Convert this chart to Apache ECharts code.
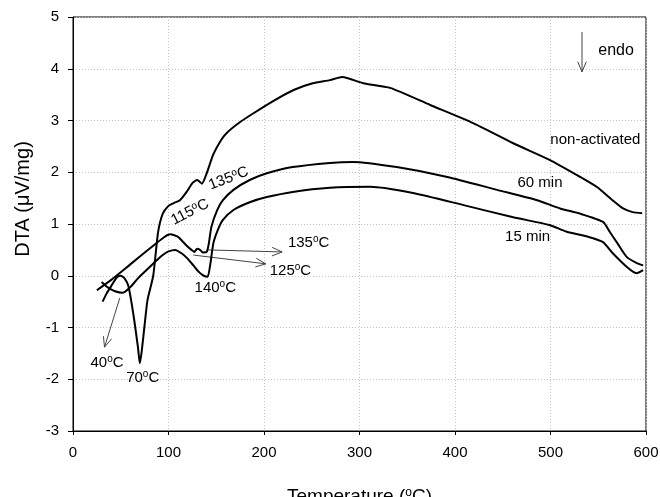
<!DOCTYPE html>
<html>
<head>
<meta charset="utf-8">
<script src="https://cdn.jsdelivr.net/npm/echarts@6/dist/echarts.min.js"></script>
<style>
  html, body { margin: 0; background: #fff; }
  #main { width: 660px; height: 497px; }
</style>
</head>
<body>
<div id="main"></div>
<script>
// DTA curves, [temperature, DTA]
var nonActivated = [
  [31,-0.5],[35,-0.35],[40,-0.2],[46,-0.03],[50,0.0],[54,-0.05],[58,-0.2],[63,-0.72],
  [68,-1.38],[70,-1.69],[72,-1.45],[75,-0.95],[78,-0.47],[84,0.0],[89,0.83],[94,1.2],
  [100,1.35],[105,1.4],[112,1.46],[119,1.62],[125,1.79],[130,1.85],[135,1.78],[140,1.98],
  [147,2.35],[155,2.62],[161,2.76],[175,2.97],[189,3.14],[210,3.38],[231,3.59],[251,3.72],
  [269,3.78],[282,3.84],[304,3.72],[332,3.63],[374,3.30],[419,2.95],[461,2.56],[499,2.24],
  [531,1.91],[549,1.71],[565,1.46],[576,1.3],[586,1.23],[596,1.21]
];
var min60 = [
  [25,-0.28],[40,-0.08],[60,0.22],[80,0.52],[95,0.74],[102,0.8],[110,0.75],[118,0.6],
  [124,0.5],[127,0.46],[130,0.52],[133,0.5],[136,0.45],[140,0.46],[142,0.6],[145,0.95],[151,1.27],
  [157,1.46],[168,1.66],[185,1.85],[203,1.98],[230,2.1],[269,2.18],[293,2.2],[339,2.1],
  [392,1.91],[444,1.66],[486,1.46],[510,1.3],[531,1.2],[555,1.04],[562,0.85],[570,0.63],
  [580,0.36],[590,0.25],[597,0.2]
];
var min15 = [
  [30,-0.12],[36,-0.22],[44,-0.3],[52,-0.33],[60,-0.22],[68,-0.05],[77,0.11],[86,0.27],
  [94,0.4],[100,0.47],[107,0.5],[114,0.43],[120,0.33],[126,0.2],[132,0.07],[137,0.0],
  [141,-0.02],[144,0.25],[147,0.63],[152,0.9],[157,1.08],[168,1.27],[185,1.42],[203,1.52],
  [230,1.62],[269,1.7],[311,1.72],[356,1.6],[408,1.37],[461,1.13],[499,0.98],[517,0.85],
  [540,0.75],[555,0.65],[565,0.44],[580,0.17],[590,0.05],[597,0.11]
];

// annotations: text and arrows, placed in data coordinates
var notes = [
  { text: 'non-activated', at: [547, 2.62] },
  { text: '60 min', at: [489, 1.79] },
  { text: '15 min', at: [476, 0.75] },
  { text: 'endo', at: [550, 4.36], align: 'left', size: 16 },
  { text: '135{s|o}C', at: [163, 1.88], rotate: 21 },
  { text: '115{s|o}C', at: [122.5, 1.23], rotate: 27 },
  { text: '135{s|o}C', at: [225, 0.63], align: 'left' },
  { text: '125{s|o}C', at: [206, 0.09], align: 'left' },
  { text: '140{s|o}C', at: [149, -0.24] },
  { text: '40{s|o}C', at: [35.6, -1.69] },
  { text: '70{s|o}C', at: [73, -1.98] }
];
var arrows = [
  [[140, 0.5], [219, 0.46]],
  [[126, 0.4], [202, 0.23]],
  [[49, -0.43], [33, -1.38]],
  [[533, 4.71], [533, 3.94]]
];

var FONT = '"Liberation Sans", Arial, sans-serif';
function sup(size) {
  return { fontSize: size, fontFamily: FONT, verticalAlign: 'top', padding: [0, 0, Math.round(size * 0.7), 0], color: '#000' };
}

var chart = echarts.init(document.getElementById('main'));

function curve(name, data) {
  return {
    name: name,
    type: 'line',
    data: data,
    smooth: 0.2,
    symbol: 'none',
    lineStyle: { color: '#000', width: 2 }
  };
}

var gridLine = { lineStyle: { color: '#c4c4c4', type: [1, 2] } };

chart.setOption({
  animation: false,
  backgroundColor: '#fff',
  grid: {
    left: 73, right: 14, top: 17, bottom: 66,
    outerBoundsMode: 'none', containLabel: false,
    show: true, borderColor: '#000', borderWidth: 1
  },
  xAxis: {
    type: 'value', min: 0, max: 600, interval: 100,
    name: 'Temperature ({s|o}C)',
    nameLocation: 'middle', nameGap: 56,
    nameTextStyle: { fontSize: 19, fontFamily: FONT, color: '#000', rich: { s: sup(12) } },
    axisLine: { onZero: false, lineStyle: { color: '#000' } },
    axisTick: { length: 4, lineStyle: { color: '#000' } },
    axisLabel: { fontSize: 15, fontFamily: FONT, color: '#000', margin: 14 },
    splitLine: gridLine
  },
  yAxis: {
    type: 'value', min: -3, max: 5, interval: 1,
    name: 'DTA (\u03bcV/mg)',
    nameLocation: 'middle', nameGap: 40,
    nameTextStyle: { fontSize: 20, fontFamily: FONT, color: '#000', padding: [0, 0, 0, 50] },
    axisLine: { show: true, onZero: false, lineStyle: { color: '#000' } },
    axisTick: { show: true, length: 5, lineStyle: { color: '#000' } },
    axisLabel: { fontSize: 15, fontFamily: FONT, color: '#000', margin: 14 },
    splitLine: gridLine
  },
  series: [curve('non-activated', nonActivated), curve('60 min', min60), curve('15 min', min15)]
});

// place annotations once the axes exist
var elements = [];
notes.forEach(function (n) {
  var p = chart.convertToPixel({ gridIndex: 0 }, n.at);
  var size = n.size || 15;
  elements.push({
    type: 'text',
    x: p[0], y: p[1],
    rotation: (n.rotate || 0) * Math.PI / 180,
    style: {
      text: n.text,
      fontSize: size, fontFamily: FONT, fill: '#000',
      align: n.align || 'center', verticalAlign: 'middle',
      rich: { s: sup(10) }
    }
  });
});
arrows.forEach(function (a) {
  var p0 = chart.convertToPixel({ gridIndex: 0 }, a[0]);
  var p1 = chart.convertToPixel({ gridIndex: 0 }, a[1]);
  var ang = Math.atan2(p1[1] - p0[1], p1[0] - p0[0]);
  var len = 11, spread = 0.4;
  var h1 = [p1[0] - len * Math.cos(ang - spread), p1[1] - len * Math.sin(ang - spread)];
  var h2 = [p1[0] - len * Math.cos(ang + spread), p1[1] - len * Math.sin(ang + spread)];
  var st = { stroke: '#444', lineWidth: 1, fill: null };
  elements.push({ type: 'polyline', shape: { points: [p0, p1] }, style: st });
  elements.push({ type: 'polyline', shape: { points: [h1, p1, h2] }, style: st });
});
chart.setOption({ graphic: elements });
</script>
</body>
</html>
